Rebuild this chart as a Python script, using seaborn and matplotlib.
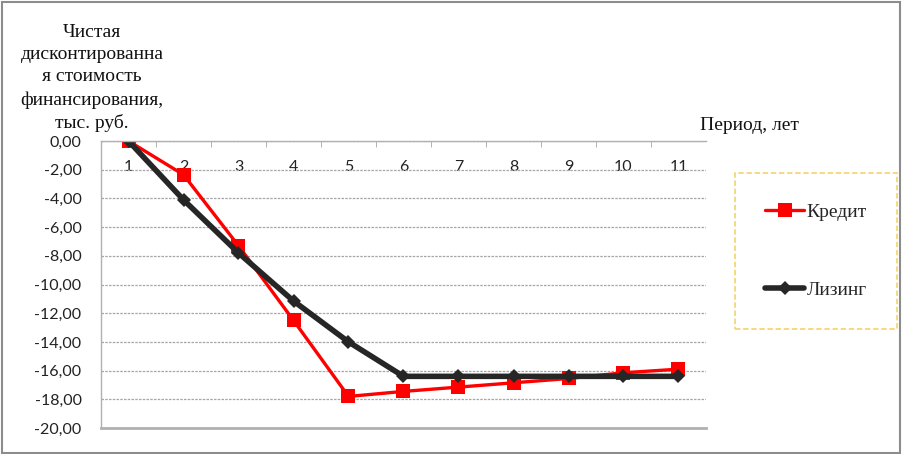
import numpy as np
import matplotlib
matplotlib.use("Agg")
import pandas as pd
import matplotlib.pyplot as plt
import seaborn as sns
from matplotlib.patches import Rectangle
from matplotlib.ticker import FuncFormatter

periods = [1, 2, 3, 4, 5, 6, 7, 8, 9, 10, 11]
credit = [0.0, -2.35, -7.3, -12.5, -17.8, -17.45, -17.15, -16.85, -16.55, -16.15, -15.9]
leasing = [0.0, -4.1, -7.8, -11.15, -14.0, -16.4, -16.4, -16.4, -16.4, -16.4, -16.4]
series_names = ["Кредит", "Лизинг"]

y_title = "Чистая\nдисконтированна\nя стоимость\nфинансирования,\nтыс. руб."
x_title = "Период, лет"

sns.set_style("white")
plt.rcParams["font.family"] = ["Liberation Serif", "DejaVu Serif"]

fig = plt.figure(figsize=(9.03, 4.54), dpi=100)
ax = fig.add_axes([101 / 903, 1 - 428 / 454, 605 / 903, 287 / 454])

df_c = pd.DataFrame({"period": periods, "value": credit})
df_l = pd.DataFrame({"period": periods, "value": leasing})

sns.lineplot(data=df_c, x="period", y="value", ax=ax, color="#ff0000", lw=2.4,
             marker="s", markersize=10, markeredgewidth=0, label=series_names[0])
sns.lineplot(data=df_l, x="period", y="value", ax=ax, color="#262626", lw=4,
             marker="D", markersize=7.5, markeredgewidth=0, label=series_names[1])

ax.set_xlim(0.5, 11.5)
ax.set_ylim(-20, 0)
ax.set_yticks(np.arange(-20, 0.1, 2))
ax.yaxis.set_major_formatter(FuncFormatter(lambda v, p: "{:.2f}".format(v).replace(".", ",")))
ax.grid(axis="y", color="#a6a6a6", lw=0.9, linestyle=(0, (2, 1)))
ax.set_axisbelow(True)

ax.set_xticks(periods)
ax.set_xticks(np.arange(1.5, 11.5, 1), minor=True)
ax.xaxis.set_ticks_position("top")
ax.tick_params(axis="x", which="major", length=0, labeltop=True, labelbottom=False,
               pad=-24, labelsize=11.5, labelcolor="#222222")
ax.tick_params(axis="x", which="minor", top=True, bottom=False, direction="in",
               length=4, color="#a6a6a6")
ax.tick_params(axis="y", length=0, pad=14, labelsize=11.5, labelcolor="#222222")
for lab in ax.get_xticklabels() + ax.get_yticklabels():
    lab.set_fontfamily(["Lato", "DejaVu Sans"])

for side in ["left", "bottom", "top"]:
    ax.spines[side].set_color("#b0b0b0")
    ax.spines[side].set_linewidth(1.0)
ax.spines["bottom"].set_linewidth(2.0)
ax.spines["right"].set_visible(False)
ax.set_xlabel("")
ax.set_ylabel("")

fig.text(92 / 903, 1 - 78 / 454, y_title, ha="center", va="center",
         fontsize=14, linespacing=1.42, color="#111111")
fig.text(700 / 903, 1 - 126 / 454, x_title, ha="left", va="center",
         fontsize=14, color="#111111")

leg = ax.legend(loc="center", bbox_to_anchor=(816 / 903, 1 - 251 / 454),
                bbox_transform=fig.transFigure, frameon=True, fancybox=False,
                fontsize=14, labelspacing=3.1, borderpad=1.55, handlelength=2.0,
                handletextpad=0.1, borderaxespad=0)
leg.get_frame().set_edgecolor("#f2cc55")
leg.get_frame().set_linestyle((0, (3, 1.5)))
leg.get_frame().set_linewidth(1.3)

fig.patches.append(Rectangle((0.002, 0.003), 0.995, 0.993, transform=fig.transFigure,
                             fill=False, edgecolor="#8c8c8c", lw=1.5))

fig.savefig("out.png", dpi=100)
